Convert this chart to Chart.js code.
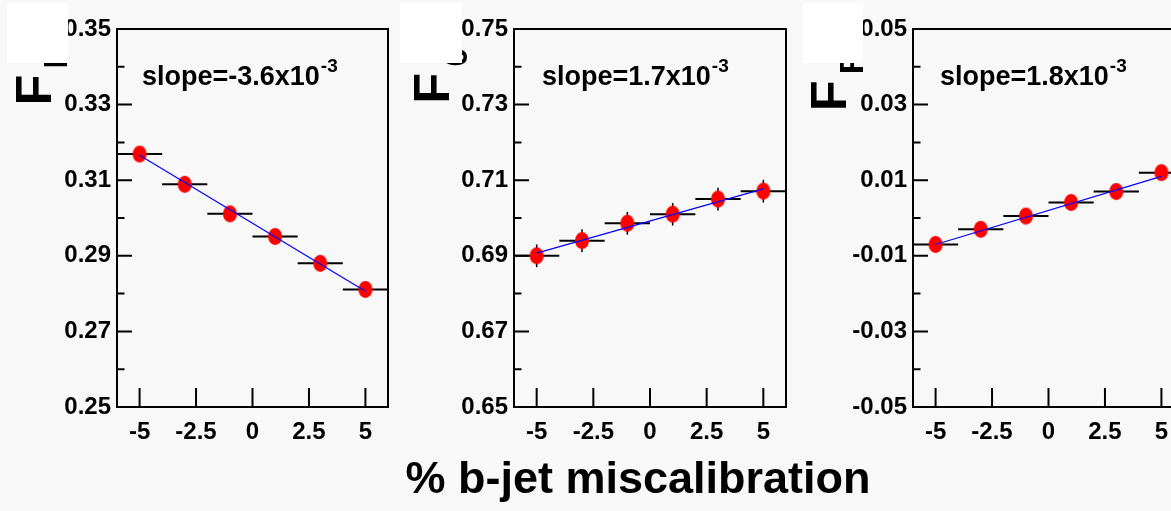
<!DOCTYPE html>
<html>
<head>
<meta charset="utf-8">
<title>Helicity fractions vs b-jet miscalibration</title>
<script src="https://cdn.jsdelivr.net/npm/chart.js@4.4.1/dist/chart.umd.min.js"></script>
<style>
    html, body { margin: 0; padding: 0; background: #f8f8f8; overflow: hidden; }
    body { position: relative; width: 1171px; height: 511px; }
    canvas { position: absolute; top: 0; }
    #xTitle {
        position: absolute; left: 638px; top: 455px; transform: translateX(-50%);
        font: bold 45px 'Liberation Sans', Arial, Helvetica, sans-serif; line-height: 45px;
        white-space: nowrap; color: #000;
    }
</style>
</head>
<body>
<canvas id="chartFL" width="400" height="460" style="left:0px"></canvas>
<canvas id="chartF0" width="400" height="460" style="left:400px"></canvas>
<canvas id="chartFR" width="400" height="460" style="left:800px"></canvas>
<div id="xTitle">% b-jet miscalibration</div>
<script>
// miscalibration bins (centre, half width in %)
const miscal = [-5, -3, -1, 1, 3, 5];
const binHalfWidth = 1;

// fitted fractions per bin
const fL = [0.3169, 0.3089, 0.3011, 0.2951, 0.2880, 0.2811];
const f0 = [0.6900, 0.6940, 0.6986, 0.7010, 0.7050, 0.7071];
const fR = [-0.0070, -0.0030, 0.0005, 0.0041, 0.0070, 0.0120];

const fLErr = [0.0008, 0.0008, 0.0008, 0.0008, 0.0008, 0.0008];
const f0Err = [0.003, 0.003, 0.003, 0.003, 0.003, 0.003];
const fRErr = [0.001, 0.001, 0.001, 0.001, 0.001, 0.001];

// straight-line fits: slope = mantissa x 10^exp, value at 0% miscalibration
const slopeMantissa = [-3.6, 1.7, 1.8];
const slopeExp = -3;
const fitAtZero = [0.2986, 0.6992, 0.0020];

// axes
const xTicks = [-5, -2.5, 0, 2.5, 5];
const yTicksL = [0.25, 0.27, 0.29, 0.31, 0.33, 0.35];
const yMinorL = [0.26, 0.28, 0.30, 0.32, 0.34];
const yTicks0 = [0.65, 0.67, 0.69, 0.71, 0.73, 0.75];
const yMinor0 = [0.66, 0.68, 0.70, 0.72, 0.74];
const yTicksR = [-0.05, -0.03, -0.01, 0.01, 0.03, 0.05];
const yMinorR = [-0.04, -0.02, 0.00, 0.02, 0.04];

const FONT = "'Liberation Sans', Arial, Helvetica, sans-serif";

function ellipseMarker(rx, ry, color) {
    const c = document.createElement('canvas');
    c.width = Math.ceil(rx * 2) + 2;
    c.height = Math.ceil(ry * 2) + 2;
    const g = c.getContext('2d');
    g.fillStyle = color;
    g.beginPath();
    g.ellipse(c.width / 2, c.height / 2, rx, ry, 0, 0, Math.PI * 2);
    g.fill();
    return c;
}
const marker = ellipseMarker(7, 8.5, '#ff0000');

// error bars, frame, inward ticks, slope text and rotated y title
const panelDecor = {
    id: 'panelDecor',
    beforeDatasetsDraw(chart, args, o) {
        const { ctx, scales: { x, y } } = chart;
        ctx.save();
        ctx.strokeStyle = '#000';
        o.xs.forEach((xv, i) => {
            const py = y.getPixelForValue(o.ys[i]);
            ctx.lineWidth = 2;
            ctx.beginPath();
            ctx.moveTo(x.getPixelForValue(xv - binHalfWidth), py);
            ctx.lineTo(x.getPixelForValue(xv + binHalfWidth), py);
            ctx.stroke();
            const px = x.getPixelForValue(xv);
            ctx.lineWidth = 1.5;
            ctx.beginPath();
            ctx.moveTo(px, y.getPixelForValue(o.ys[i] - o.errs[i]));
            ctx.lineTo(px, y.getPixelForValue(o.ys[i] + o.errs[i]));
            ctx.stroke();
        });
        ctx.restore();
    },
    afterDraw(chart, args, o) {
        const { ctx, chartArea: a, scales: { x, y } } = chart;
        ctx.save();
        ctx.strokeStyle = '#000';
        ctx.lineWidth = 2;
        ctx.strokeRect(a.left, a.top, a.right - a.left, a.bottom - a.top);

        ctx.beginPath();
        xTicks.forEach(v => {
            const px = x.getPixelForValue(v);
            ctx.moveTo(px, a.bottom);
            ctx.lineTo(px, a.bottom - 19);
        });
        o.yTicks.forEach(v => {
            const py = y.getPixelForValue(v);
            ctx.moveTo(a.left, py);
            ctx.lineTo(a.left + 15, py);
        });
        o.yMinor.forEach(v => {
            const py = y.getPixelForValue(v);
            ctx.moveTo(a.left, py);
            ctx.lineTo(a.left + 7.5, py);
        });
        ctx.stroke();

        // slope label
        ctx.fillStyle = '#000';
        ctx.textAlign = 'left';
        ctx.textBaseline = 'alphabetic';
        ctx.font = 'bold 27px ' + FONT;
        const main = 'slope=' + o.mantissa.toFixed(1) + 'x10';
        const sx = a.left + o.slopeDx;
        ctx.fillText(main, sx, 85);
        const w = ctx.measureText(main).width;
        ctx.font = 'bold 19px ' + FONT;
        ctx.fillText(String(slopeExp), sx + w + 1, 72);

        // y title F_sub, reading upwards
        ctx.save();
        ctx.translate(o.title.fx, o.title.fy);
        ctx.rotate(-Math.PI / 2);
        ctx.font = 'bold 50px ' + FONT;
        ctx.fillText('F', 0, 0);
        ctx.restore();
        ctx.save();
        ctx.translate(o.title.sx, o.title.sy);
        ctx.rotate(-Math.PI / 2);
        ctx.font = 'bold 34px ' + FONT;
        ctx.fillText(o.title.sub, 0, 0);
        ctx.restore();

        ctx.fillStyle = '#ffffff';
        ctx.fillRect(o.box[0], o.box[1], o.box[2], o.box[3]);
        ctx.restore();
    }
};

function makePanel(id, values, errs, yTicks, yMinor, k, layout) {
    const m = slopeMantissa[k] * Math.pow(10, slopeExp);
    const x0 = miscal[0], x1 = miscal[miscal.length - 1];
    new Chart(document.getElementById(id), {
        data: {
            datasets: [
                {
                    type: 'line',
                    data: [{ x: x0, y: fitAtZero[k] + m * x0 }, { x: x1, y: fitAtZero[k] + m * x1 }],
                    borderColor: '#0000ff',
                    borderWidth: 1.2,
                    pointRadius: 0,
                    order: 0
                },
                {
                    type: 'scatter',
                    data: miscal.map((v, i) => ({ x: v, y: values[i] })),
                    pointStyle: marker,
                    pointRadius: 8,
                    order: 1
                }
            ]
        },
        options: {
            responsive: false,
            animation: false,
            devicePixelRatio: 1,
            layout: { padding: { left: 0, right: layout.padRight, top: 29, bottom: 0 } },
            scales: {
                x: {
                    type: 'linear',
                    min: -6,
                    max: 6,
                    afterBuildTicks: axis => { axis.ticks = xTicks.map(v => ({ value: v })); },
                    afterFit: s => { s.height = 53; },
                    grid: { display: false, drawTicks: false },
                    border: { display: false },
                    ticks: {
                        padding: 11,
                        color: '#000',
                        font: { family: FONT, size: 24, weight: 'bold' },
                        callback: v => String(v)
                    }
                },
                y: {
                    type: 'linear',
                    min: yTicks[0],
                    max: yTicks[yTicks.length - 1],
                    afterBuildTicks: axis => { axis.ticks = yTicks.map(v => ({ value: v })); },
                    afterFit: s => { s.width = layout.axisLeft; },
                    grid: { display: false, drawTicks: false },
                    border: { display: false },
                    ticks: {
                        padding: 6,
                        color: '#000',
                        font: { family: FONT, size: 24, weight: 'bold' },
                        callback: v => v.toFixed(2)
                    }
                }
            },
            plugins: {
                legend: { display: false },
                tooltip: { enabled: false },
                panelDecor: {
                    xs: miscal, ys: values, errs: errs,
                    yTicks: yTicks, yMinor: yMinor,
                    mantissa: slopeMantissa[k],
                    slopeDx: layout.slopeDx,
                    title: layout.title,
                    box: layout.box
                }
            }
        },
        plugins: [panelDecor]
    });
}

makePanel('chartFL', fL, fLErr, yTicksL, yMinorL, 0, {
    axisLeft: 117, padRight: 12, slopeDx: 25,
    title: { sub: 'L', fx: 51, fy: 105.3, sx: 67, sy: 68.5 },
    box: [7, 3, 61, 60]
});
makePanel('chartF0', f0, f0Err, yTicks0, yMinor0, 1, {
    axisLeft: 114, padRight: 14, slopeDx: 28,
    title: { sub: '0', fx: 49.3, fy: 103.6, sx: 67, sy: 66.4 },
    box: [0, 3, 62, 60]
});
makePanel('chartFR', fR, fRErr, yTicksR, yMinorR, 2, {
    axisLeft: 113, padRight: 16, slopeDx: 27,
    title: { sub: 'R', fx: 46, fy: 111, sx: 62.7, sy: 74.2 },
    box: [3, 3, 60, 60]
});
</script>
</body>
</html>
